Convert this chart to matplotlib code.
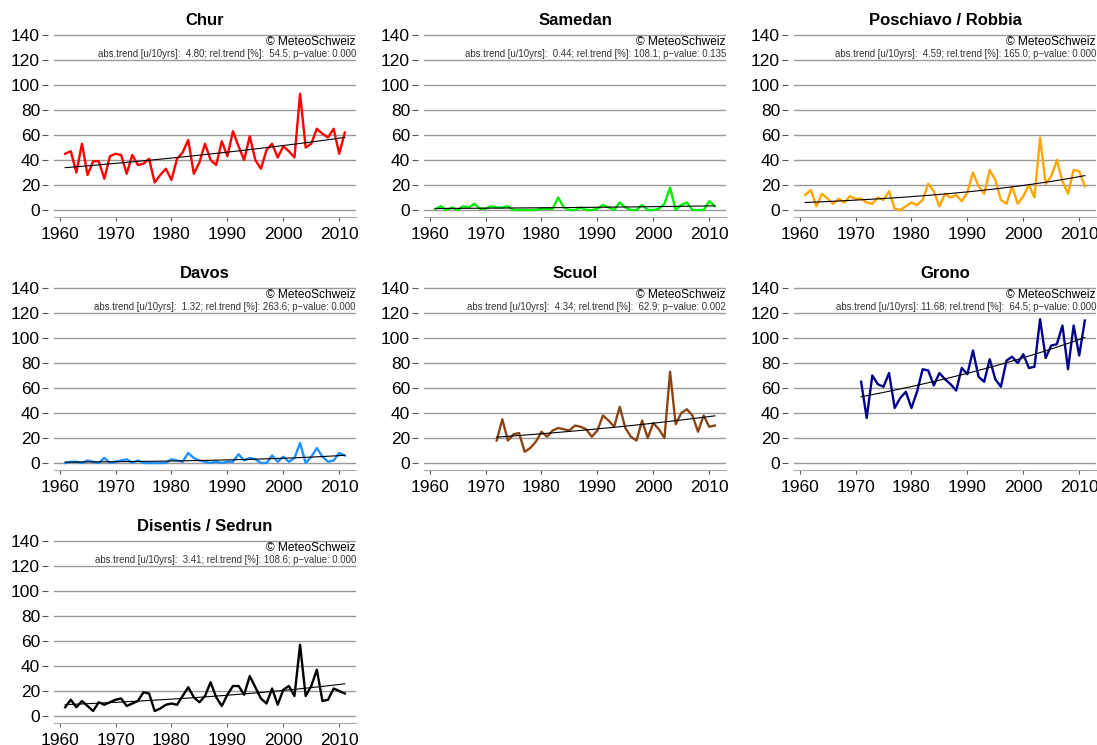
import matplotlib
matplotlib.use("Agg")
import matplotlib.pyplot as plt
import numpy as np

plt.rcParams['font.family'] = ['Liberation Sans', 'DejaVu Sans']

# days per year at each station
chur_years = np.arange(1961, 2012)
chur = [45, 47, 30, 53, 28, 39, 39, 25, 43, 45, 44, 29, 44, 36, 37, 41, 22, 28, 33, 24,
        41, 46, 56, 29, 38, 53, 40, 36, 55, 43, 63, 51, 40, 59, 40, 33, 48, 53, 42, 51,
        47, 42, 93, 50, 53, 65, 61, 58, 65, 45, 62]

samedan_years = np.arange(1961, 2012)
samedan = [0.5, 3, 0, 2, 0, 3, 2, 5, 1, 1, 3, 2, 2, 3, 0, 0, 0, 0, 0, 1,
           1, 1, 10, 2, 0, 0, 2, 0, 0, 1, 4, 2, 0, 6, 2, 0, 0, 4, 0, 0,
           1, 5, 18, 0, 4, 6, 0, 0, 0, 7, 3]

poschiavo_years = np.arange(1961, 2012)
poschiavo = [12, 16, 3, 13, 9, 5, 9, 6, 11, 9, 9, 6, 5, 10, 8, 15, 1, 0, 3, 6,
             4, 8, 21, 15, 3, 13, 10, 12, 7, 14, 30, 19, 13, 32, 24, 8, 5, 19, 5, 11,
             20, 10, 58, 21, 27, 40, 23, 13, 32, 31, 19]

davos_years = np.arange(1961, 2012)
davos = [0, 1, 1, 0, 2, 1, 0, 4, 0, 1, 2, 3, 0, 2, 0, 0, 0, 0, 0, 3,
         2, 1, 8, 4, 2, 1, 0, 1, 0, 1, 1, 7, 2, 4, 3, 0, 0, 6, 1, 5,
         1, 4, 16, 0, 5, 12, 5, 1, 2, 8, 6]

scuol_years = np.arange(1972, 2012)
scuol = [18, 35, 18, 23, 24, 9, 12, 17, 25, 21, 26, 28, 27, 26, 30, 29, 27, 21, 26, 38,
         34, 29, 45, 28, 21, 18, 34, 20, 32, 27, 20, 73, 31, 40, 43, 38, 25, 38, 29, 30]

grono_years = np.arange(1971, 2012)
grono = [65, 36, 70, 63, 61, 72, 44, 52, 57, 44, 57, 75, 74, 62, 72, 67, 63, 58, 76, 71,
         90, 69, 65, 83, 67, 61, 82, 85, 80, 87, 76, 77, 115, 84, 94, 95, 110, 75, 110, 86,
         114]

disentis_years = np.arange(1961, 2012)
disentis = [7, 13, 7, 12, 8, 4, 11, 9, 11, 13, 14, 8, 10, 12, 19, 18, 4, 6, 9, 10,
            9, 16, 23, 15, 11, 16, 27, 15, 8, 17, 24, 24, 17, 32, 23, 14, 10, 22, 9, 21,
            24, 16, 57, 16, 24, 37, 12, 13, 22, 20, 18]

stations = ["Chur", "Samedan", "Poschiavo / Robbia", "Davos", "Scuol", "Grono",
            "Disentis / Sedrun"]
years = [chur_years, samedan_years, poschiavo_years, davos_years, scuol_years,
         grono_years, disentis_years]
values = [chur, samedan, poschiavo, davos, scuol, grono, disentis]
colors = ["#ff0000", "#00ee00", "#ffa500", "#1e90ff", "#8b4513", "#00008b", "#000000"]
trend_info = [
    "abs.trend [u/10yrs]:  4.80; rel.trend [%]:  54.5; p\u2212value: 0.000",
    "abs.trend [u/10yrs]:  0.44; rel.trend [%]: 108.1; p\u2212value: 0.135",
    "abs.trend [u/10yrs]:  4.59; rel.trend [%]: 165.0; p\u2212value: 0.000",
    "abs.trend [u/10yrs]:  1.32; rel.trend [%]: 263.6; p\u2212value: 0.000",
    "abs.trend [u/10yrs]:  4.34; rel.trend [%]:  62.9; p\u2212value: 0.002",
    "abs.trend [u/10yrs]: 11.68; rel.trend [%]:  64.5; p\u2212value: 0.000",
    "abs.trend [u/10yrs]:  3.41; rel.trend [%]: 108.6; p\u2212value: 0.000",
]


def loglin_trend(x, y):
    # poisson regression (log link) fitted by IRLS
    x = np.asarray(x, float)
    y = np.asarray(y, float)
    X = np.column_stack([np.ones_like(x), x - x.mean()])
    beta = np.array([np.log(y.mean()), 0.0])
    for _ in range(50):
        eta = X @ beta
        mu = np.exp(eta)
        z = eta + (y - mu) / mu
        W = mu
        beta = np.linalg.solve(X.T @ (W[:, None] * X), X.T @ (W * z))
    return np.exp(X @ beta)


W, H = 1097, 745
fig = plt.figure(figsize=(W / 100, H / 100), dpi=100)

col_left = [54, 424, 794]
row_bottom = [217, 470, 723]
ax_w, ax_h = 302, 189

for i, name in enumerate(stations):
    r, c = divmod(i, 3)
    ax = fig.add_axes([col_left[c] / W, 1 - row_bottom[r] / H, ax_w / W, ax_h / H])
    x = years[i]
    y = np.asarray(values[i], float)

    for g in range(0, 141, 20):
        ax.axhline(g, color="#999999", lw=1.0, zorder=1)

    ax.plot(x, y, color=colors[i], lw=1.7, zorder=3)
    ax.plot(x, loglin_trend(x, y), color="black", lw=0.8, zorder=4)

    ax.set_xlim(1959, 2013)
    ax.set_ylim(-5.6, 145.6)
    ax.set_xticks(range(1960, 2011, 10))
    ax.set_yticks(range(0, 141, 20))

    for s in ["top", "right"]:
        ax.spines[s].set_visible(False)
    ax.spines["left"].set_color("none")
    ax.spines["left"].set_position(("outward", 4))
    ax.spines["bottom"].set_color("#aaaaaa")
    ax.spines["bottom"].set_linewidth(0.8)

    ax.tick_params(axis="y", length=4, width=0.8, color="#555555", pad=2,
                   labelsize=12.5)
    ax.tick_params(axis="x", length=3, width=0.8, color="#555555", pad=4,
                   labelsize=12.5)

    ax.set_title(name, fontsize=12, fontweight="bold", pad=1.5)
    ax.text(1.0, 0.926, "\u00a9 MeteoSchweiz", transform=ax.transAxes,
            ha="right", va="center", fontsize=8.6)
    ax.text(1.0, 0.862, trend_info[i], transform=ax.transAxes,
            ha="right", va="center", fontsize=6.9, color="#333333")

fig.savefig("out.png", dpi=100)
